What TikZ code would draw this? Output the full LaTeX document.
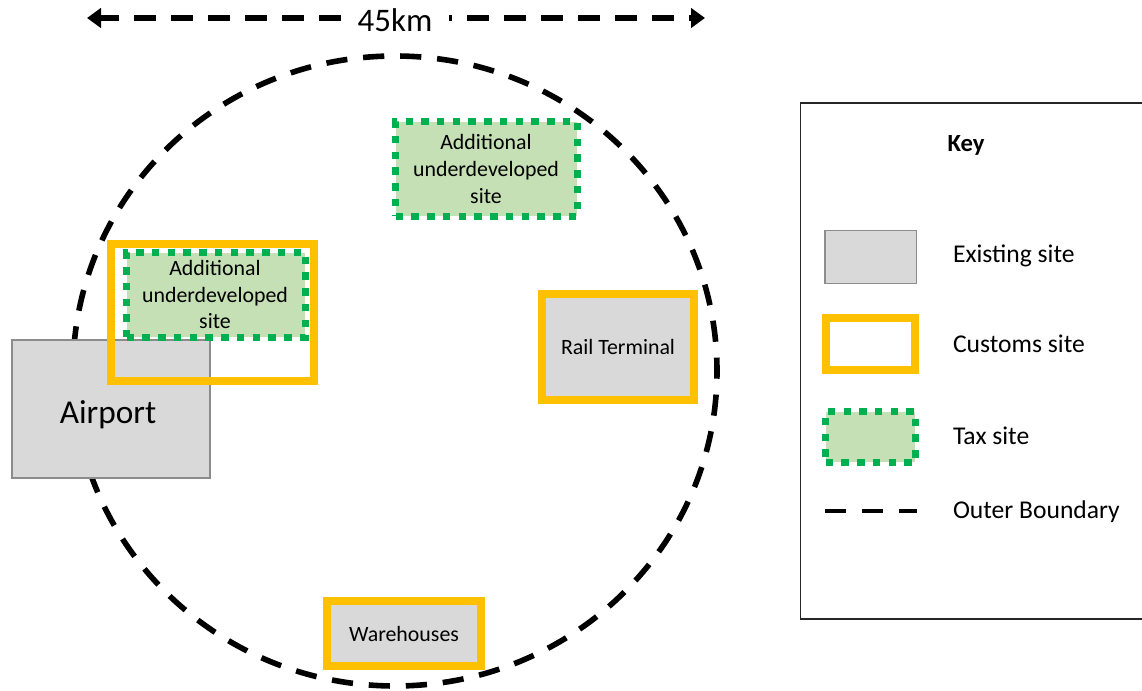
\documentclass[tikz,border=0pt]{standalone}
\usepackage{fontspec}
\usetikzlibrary{arrows.meta}
\setmainfont{Carlito}
\definecolor{gborder}{HTML}{8C8C8C}
\definecolor{gfill}{HTML}{D9D9D9}
\definecolor{ygold}{HTML}{FFC000}
\definecolor{tgreen}{HTML}{00B050}
\definecolor{tfill}{HTML}{C5E0B4}
\tikzset{
  x=0.75pt,y=-0.75pt,
  every node/.style={inner sep=0pt,outer sep=0pt,align=center,text=black},
  boundary/.style={line width=4.2pt,dash pattern=on 15.9pt off 11.9pt,dash phase=5.85pt,draw=black},
  existing/.style={draw=gborder,fill=gfill,line width=1.2pt},
  customs/.style={draw=ygold,line width=6pt},
  taxsite/.style={draw=tgreen,fill=tfill,line width=5.6pt,dash pattern=on 5.6pt off 6.2pt},
  txtM/.style={font=\fontsize{16.4pt}{20pt}\selectfont},
  txtK/.style={font=\fontsize{19.2pt}{22pt}\selectfont,anchor=west},
}
\newcommand{\boxnode}[6]{\node[#1,minimum width=#4*0.75pt,minimum height=#5*0.75pt,anchor=north west] (#2) at #3 {#6};}
\begin{document}
\begin{tikzpicture}
\useasboundingbox (0,0) rectangle (1142,691);
\clip (0,0) rectangle (1142,691);
% outer boundary
\coordinate (cc) at (395,371);
\draw[boundary] (cc) ellipse [x radius=322*0.75pt,y radius=315*0.75pt];
% span arrow
\coordinate (spanL) at (87,18);
\coordinate (spanR) at (705,18);
\draw[line width=4pt,dash pattern=on 16.5pt off 11.25pt,dash phase=2.25pt,{Triangle[length=10.5pt,width=14.5pt]}-{Triangle[length=10.5pt,width=14.5pt]}] (spanL) -- (spanR);
\node[fill=white,font=\fontsize{24.7pt}{26pt}\selectfont,minimum width=78pt,minimum height=22pt] (span) at (397,20) {45km\kern 3pt};
% sites
\boxnode{existing}{airport}{(12,340)}{198}{138}{\fontsize{25pt}{28pt}\selectfont\raisebox{-10.5pt}[0pt][0pt]{Airport\kern 4.5pt}}
\boxnode{taxsite}{taxa}{(395.7,121.7)}{181.6}{94.6}{}
\node[txtM] (taxatxt) at (486,169) {Additional\\underdeveloped\\site};
\boxnode{taxsite}{taxb}{(126.7,252.7)}{178.6}{84.6}{}
\node[txtM] (taxbtxt) at (215,294.5) {Additional\\underdeveloped\\site};
\boxnode{customs}{cust}{(111,244)}{203}{137}{}
\boxnode{existing,customs,fill=gfill}{rail}{(542,294)}{152}{106}{\fontsize{16.4pt}{19pt}\selectfont Rail Terminal}
\boxnode{existing,customs,fill=gfill}{ware}{(327,601)}{154}{65}{\fontsize{16.4pt}{19pt}\selectfont Warehouses}
% key
\draw[line width=1.1pt,draw=black!85] (1160,103) -- (800.5,103) -- (800.5,619) -- (1160,619);
\node[font=\bfseries\fontsize{18.5pt}{20pt}\selectfont] (key) at (966,145) {Key};
\boxnode{existing}{k1}{(825,230.5)}{91.5}{53}{}
\boxnode{customs}{k2}{(826,318)}{89}{52}{}
\boxnode{taxsite}{k3}{(825.7,411.7)}{89.6}{50.6}{}
\coordinate (k4a) at (825,511);
\coordinate (k4b) at (917,511);
\draw[line width=3.6pt,dash pattern=on 15.7pt off 12pt] (k4a) -- (k4b);
\node[txtK] (t1) at (953,256) {Existing site};
\node[txtK] (t2) at (953,344) {Customs site};
\node[txtK] (t3) at (953,436) {Tax site};
\node[txtK] (t4) at (953,512) {Outer Boundary};
\end{tikzpicture}
\end{document}
